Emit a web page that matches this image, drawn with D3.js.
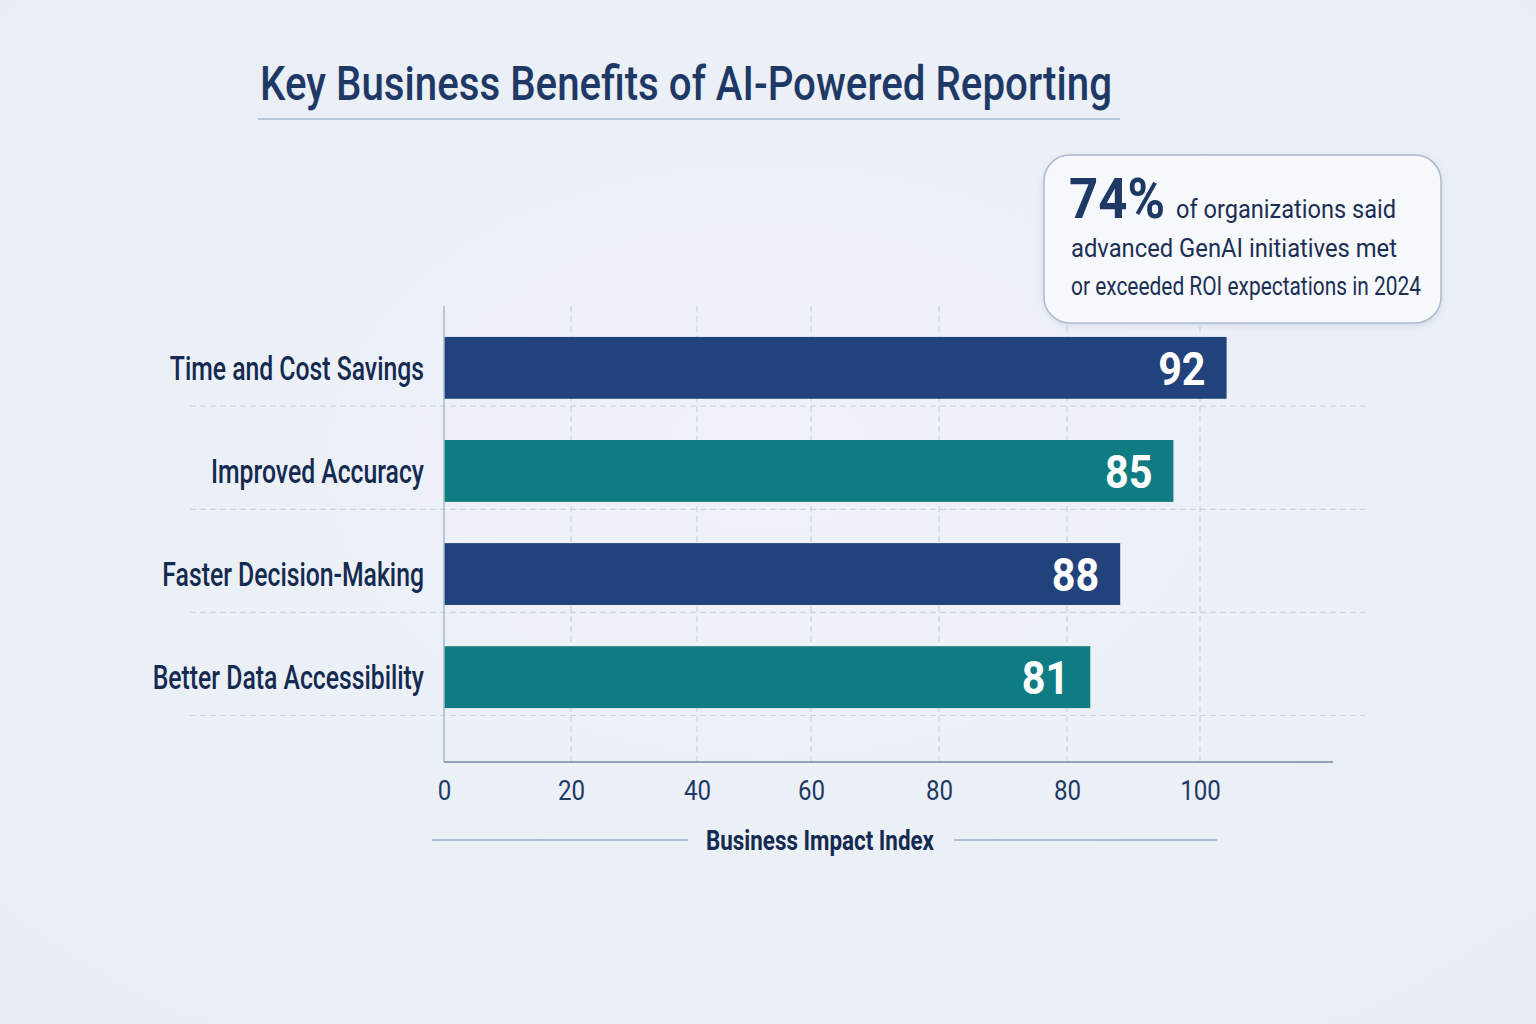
<!DOCTYPE html>
<html>
<head>
<meta charset="utf-8">
<script src="https://cdn.jsdelivr.net/npm/d3@7"></script>
<style>
  html, body { margin: 0; padding: 0; background: #ecf0f7; }
  svg { display: block; }
  text { font-family: "Roboto", "Noto Sans", sans-serif; }
</style>
</head>
<body>
<svg id="chart"></svg>
<script>
// Chart data
var categories = ['Time and Cost Savings', 'Improved Accuracy', 'Faster Decision-Making', 'Better Data Accessibility'];
// bar lengths in axis units, and the numbers printed on the bars
var barLengths = [124, 116, 108, 103.5];
var valueLabels = ['92', '85', '88', '81'];
var barColors = ['#21427c', '#0e7c82', '#21427c', '#0e7c82'];

// axis ticks (the picture labels them like this)
var tickValues = [0, 20, 40, 60, 80, 100, 120];
var tickLabels = ['0', '20', '40', '60', '80', '80', '100'];
var tickPixels = [444, 571, 697, 811, 939, 1067, 1200];

var titleText = 'Key Business Benefits of AI-Powered Reporting';
var axisTitle = 'Business Impact Index';
var calloutBig = '74%';
var calloutLines = ['of organizations said', 'advanced GenAI initiatives met', 'or exceeded ROI expectations in 2024'];

var W = 1536, H = 1024;

// squeeze text horizontally so it looks like a condensed face
function condense(sel, factor) {
    sel.each(function() {
        var w = this.getComputedTextLength();
        d3.select(this)
            .attr('textLength', w * factor)
            .attr('lengthAdjust', 'spacingAndGlyphs');
    });
}
function fitWidth(sel, width) {
    sel.attr('textLength', width).attr('lengthAdjust', 'spacingAndGlyphs');
}

var svg = d3.select('#chart')
    .attr('width', W)
    .attr('height', H);

// Background with a soft glow
var defs = svg.append('defs');
var bg = defs.append('radialGradient')
    .attr('id', 'bg')
    .attr('cx', '50%').attr('cy', '45%').attr('r', '75%');
bg.append('stop').attr('offset', '0%').attr('stop-color', '#eff2f8');
bg.append('stop').attr('offset', '100%').attr('stop-color', '#e8edf5');

var shadow = defs.append('filter').attr('id', 'shadow')
    .attr('x', '-10%').attr('y', '-10%').attr('width', '120%').attr('height', '130%');
shadow.append('feDropShadow')
    .attr('dx', 0).attr('dy', 2).attr('stdDeviation', 3)
    .attr('flood-color', '#8a9bb5').attr('flood-opacity', 0.25);

svg.append('rect')
    .attr('width', W).attr('height', H)
    .attr('fill', 'url(#bg)');

// Scales
var xScale = d3.scaleLinear()
    .domain(tickValues)
    .range(tickPixels);

var yScale = d3.scaleBand()
    .domain(categories)
    .range([306, 739])
    .paddingInner(0.4)
    .paddingOuter(0.3);

var axisY = 762;
var axisEnd = 140;

// Title
svg.append('text')
    .attr('x', 260)
    .attr('y', 100)
    .attr('fill', '#1f3966')
    .style('font-size', '49px')
    .style('font-weight', 500)
    .text(titleText)
    .call(fitWidth, 852);

svg.append('line')
    .attr('x1', 258).attr('x2', 1120)
    .attr('y1', 119).attr('y2', 119)
    .attr('stroke', '#b9c7d7')
    .attr('stroke-width', 2);

// Horizontal dashed grid lines under each bar
var gridGap = yScale.step() * yScale.paddingInner() * 0.18;
svg.append('g')
    .selectAll('line')
    .data(categories)
    .enter()
    .append('line')
    .attr('x1', 190)
    .attr('x2', 1365)
    .attr('y1', function(d) { return yScale(d) + yScale.bandwidth() + gridGap; })
    .attr('y2', function(d) { return yScale(d) + yScale.bandwidth() + gridGap; })
    .attr('stroke', '#c9d2de')
    .attr('stroke-width', 1.2)
    .attr('stroke-dasharray', '6,4');

// Vertical dashed grid lines
svg.append('g')
    .selectAll('line')
    .data(tickValues.slice(1))
    .enter()
    .append('line')
    .attr('x1', function(d) { return xScale(d); })
    .attr('x2', function(d) { return xScale(d); })
    .attr('y1', 306)
    .attr('y2', axisY)
    .attr('stroke', '#c9d2de')
    .attr('stroke-width', 1.2)
    .attr('stroke-dasharray', '6,4');

// Bars
svg.append('g')
    .selectAll('rect')
    .data(categories)
    .enter()
    .append('rect')
    .attr('x', xScale(0))
    .attr('y', function(d) { return yScale(d); })
    .attr('width', function(d, i) { return xScale(barLengths[i]) - xScale(0); })
    .attr('height', yScale.bandwidth())
    .attr('fill', function(d, i) { return barColors[i]; });

// Value labels inside bars
svg.append('g')
    .selectAll('text')
    .data(categories)
    .enter()
    .append('text')
    .attr('x', function(d, i) { return xScale(barLengths[i]) - 21; })
    .attr('y', function(d) { return yScale(d) + yScale.bandwidth() / 2; })
    .attr('dy', '0.36em')
    .attr('text-anchor', 'end')
    .attr('fill', '#ffffff')
    .style('font-size', '47px')
    .style('font-weight', 'bold')
    .text(function(d, i) { return valueLabels[i]; })
    .call(condense, 0.88);

// Category labels
svg.append('g')
    .selectAll('text')
    .data(categories)
    .enter()
    .append('text')
    .attr('x', 424)
    .attr('y', function(d) { return yScale(d) + yScale.bandwidth() / 2; })
    .attr('dy', '0.36em')
    .attr('text-anchor', 'end')
    .attr('fill', '#142a50')
    .style('font-size', '33px')
    .style('font-weight', 500)
    .text(function(d) { return d; })
    .call(condense, 0.75);

// Y axis line
svg.append('line')
    .attr('x1', xScale(0)).attr('x2', xScale(0))
    .attr('y1', 306).attr('y2', axisY)
    .attr('stroke', '#a9b8cc')
    .attr('stroke-width', 1.5);

// X axis
var xAxis = d3.axisBottom(xScale)
    .tickValues(tickValues)
    .tickFormat(function(d, i) { return tickLabels[i]; })
    .tickSize(0)
    .tickPadding(18);

var xAxisG = svg.append('g')
    .attr('transform', 'translate(0,' + axisY + ')')
    .call(xAxis);

xAxisG.select('.domain').remove();
xAxisG.selectAll('text')
    .attr('fill', '#1f3966')
    .style('font-size', '28px')
    .style('font-family', '"Roboto", sans-serif')
    .call(condense, 0.86);

svg.append('line')
    .attr('x1', xScale(0)).attr('x2', xScale(axisEnd))
    .attr('y1', axisY).attr('y2', axisY)
    .attr('stroke', '#8fa1bb')
    .attr('stroke-width', 2);

// Axis title with rules on both sides
svg.append('text')
    .attr('x', 820)
    .attr('y', 850)
    .attr('text-anchor', 'middle')
    .attr('fill', '#142a50')
    .style('font-size', '28px')
    .style('font-weight', 'bold')
    .text(axisTitle)
    .call(fitWidth, 228);

svg.append('line')
    .attr('x1', 432).attr('x2', 688)
    .attr('y1', 840).attr('y2', 840)
    .attr('stroke', '#9aabc2').attr('stroke-width', 1.5);

svg.append('line')
    .attr('x1', 954).attr('x2', 1217)
    .attr('y1', 840).attr('y2', 840)
    .attr('stroke', '#9aabc2').attr('stroke-width', 1.5);

// Callout box
var callout = svg.append('g');
callout.append('rect')
    .attr('x', 1044).attr('y', 155)
    .attr('width', 397).attr('height', 168)
    .attr('rx', 26)
    .attr('fill', '#f7f9fc')
    .attr('stroke', '#aebbd0')
    .attr('stroke-width', 1.5)
    .attr('filter', 'url(#shadow)');

callout.append('text')
    .attr('x', 1069)
    .attr('y', 218)
    .attr('fill', '#1f3966')
    .style('font-size', '56px')
    .style('font-weight', 'bold')
    .text(calloutBig)
    .call(fitWidth, 96);

var calloutX = [1176, 1071, 1071];
var calloutW = [220, 326, 350];
callout.selectAll('.cline')
    .data(calloutLines)
    .enter()
    .append('text')
    .attr('class', 'cline')
    .attr('x', function(d, i) { return calloutX[i]; })
    .attr('y', function(d, i) { return 218 + i * 38.5; })
    .attr('fill', '#1b2f55')
    .style('font-size', '26px')
    .text(function(d) { return d; })
    .each(function(d, i) { d3.select(this).call(fitWidth, calloutW[i]); });
</script>
</body>
</html>
